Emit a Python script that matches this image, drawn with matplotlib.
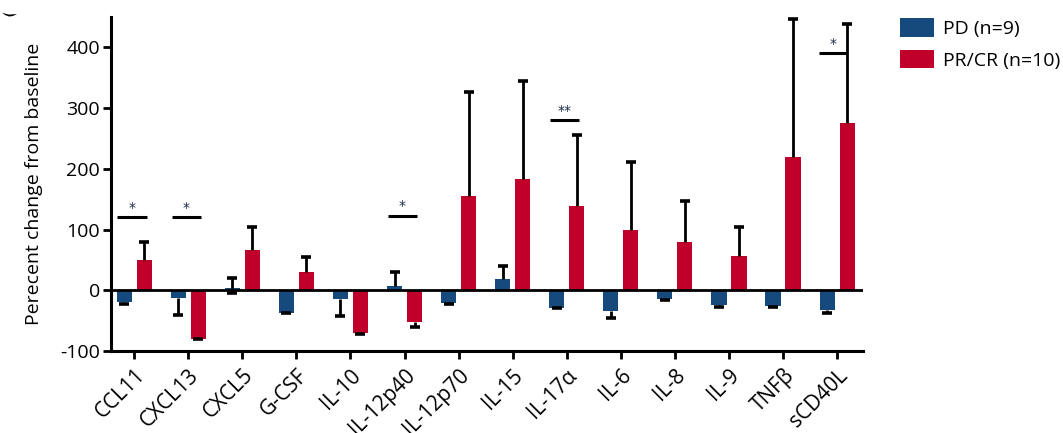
import matplotlib
matplotlib.use("Agg")
import matplotlib.pyplot as plt
from matplotlib.patches import Patch, Polygon
import numpy as np

plt.rcParams['font.family'] = ['Open Sans', 'DejaVu Sans']
plt.rcParams['axes.unicode_minus'] = False

cytokines = ["CCL11", "CXCL13", "CXCL5", "G-CSF", "IL-10", "IL-12p40", "IL-12p70",
             "IL-15", "IL-17\u03b1", "IL-6", "IL-8", "IL-9", "TNF\u03b2", "sCD40L"]

pd_mean = [-19, -12, 3, -37, -14, 7, -21, 18, -29, -34, -14, -25, -26, -32]
pd_err_lo = [3, 29, 8, 1, 29, 0, 1, 0, 1, 12, 2, 2, 1, 5]
pd_err_hi = [0, 0, 17, 0, 0, 23, 0, 22, 0, 0, 0, 0, 0, 0]

pr_mean = [50, -80, 66, 30, -70, -53, 156, 183, 138, 99, 80, 56, 219, 276]
pr_err_lo = [0, 1, 0, 0, 2, 8, 0, 0, 0, 0, 0, 0, 0, 0]
pr_err_hi = [29, 0, 39, 25, 0, 0, 171, 162, 118, 112, 67, 49, 227, 163]

# significance brackets: (category index, bar height, label)
sig_idx = [0, 1, 5, 8, 13]
sig_y = [120, 121, 123, 280, 391]
sig_lbl = ["*", "*", "*", "**", "*"]

blue = "#174a7c"
red = "#c0002b"

fig = plt.figure(figsize=(10.63, 4.33), dpi=100)
ax = fig.add_axes([0.1044, 0.1894, 0.7075, 0.7713])

x = np.arange(len(cytokines))
w = 0.28
off = 0.185
ax.bar(x - off, pd_mean, w, color=blue, zorder=2)
ax.bar(x + off, pr_mean, w, color=red, zorder=2)


def one_sided_errors(xpos, means, lo, hi):
    """Draw error whiskers only on the sides that carry an error."""
    for xi, m, l, h in zip(xpos, means, lo, hi):
        for e, sign in ((l, -1), (h, 1)):
            if e > 0:
                tip = m + sign * e
                ax.plot([xi, xi], [m, tip], color="black", lw=2.0, zorder=3,
                        solid_capstyle="butt")
                ax.plot([xi], [tip], marker="_", ms=7, mew=2.6, color="black", zorder=3)


one_sided_errors(x - off, pd_mean, pd_err_lo, pd_err_hi)
one_sided_errors(x + off, pr_mean, pr_err_lo, pr_err_hi)

ax.axhline(0, color="black", lw=2.0, zorder=4)

last = len(cytokines) - 1
for i, yv, lbl in zip(sig_idx, sig_y, sig_lbl):
    if i == last:
        x0, x1 = i - 0.33, i + off
        xt = i - 0.07
    else:
        x0, x1 = i - 0.31, i + 0.23
        xt = (x0 + x1) / 2
    ax.plot([x0, x1], [yv, yv], color="black", lw=2.2, solid_capstyle="butt", zorder=3)
    ax.text(xt, yv + 15, lbl, ha="center", va="center", fontsize=10,
            family="DejaVu Sans", color="#1d2a4a")

ax.set_xlim(-0.43, 13.48)
ax.set_ylim(-100, 450)
ax.set_yticks([-100, 0, 100, 200, 300, 400])
ax.set_xticks(x)
ax.set_xticklabels(cytokines, rotation=45, ha="right", rotation_mode="anchor", fontsize=15)
ax.tick_params(axis="y", labelsize=14, width=2, length=6, pad=2)
ax.tick_params(axis="x", width=2, length=6, pad=4)
ax.set_ylabel("Perecent change from baseline", fontsize=14, labelpad=12)

for s in ["top", "right"]:
    ax.spines[s].set_visible(False)
for s in ["left", "bottom"]:
    ax.spines[s].set_linewidth(2.2)

handles = [Patch(facecolor=blue, label="PD (n=9)"),
           Patch(facecolor=red, label="PR/CR (n=10)")]
fig.legend(handles=handles, loc="upper left", bbox_to_anchor=(900 / 1063, 1 - 18 / 433),
           frameon=False, fontsize=14, handlelength=1.75, handleheight=1.1,
           handletextpad=0.45, labelspacing=0.6, borderpad=0, borderaxespad=0)

# clipped panel mark in the top-left corner
W, H = 1063, 433
crescent = [(2, 12.5), (5, 15), (9, 16.5), (13, 16), (17, 14),
            (13, 14.3), (9, 14.6), (5, 13.6)]
fig.patches.append(Polygon([(px / W, 1 - py / H) for px, py in crescent], closed=True,
                           transform=fig.transFigure, facecolor="black", edgecolor="none"))

fig.savefig("out.png", dpi=100)
